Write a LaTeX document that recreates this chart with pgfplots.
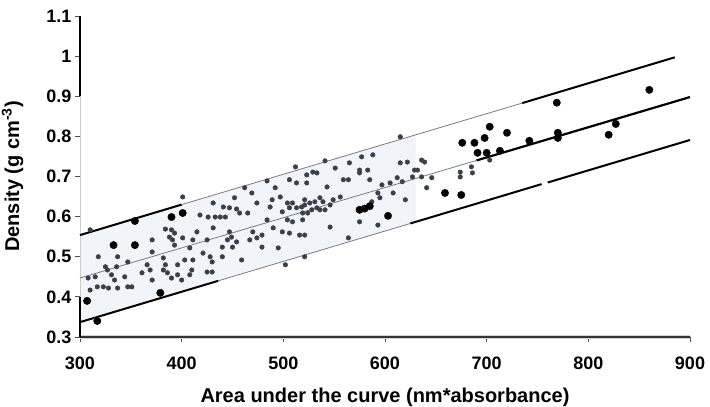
\documentclass[border=0pt]{standalone}
\usepackage{fontspec}
\setmainfont{Liberation Sans}
\usepackage{pgfplots}
\pgfplotsset{compat=1.18}
\definecolor{dotgray}{RGB}{58,63,76}
\definecolor{bandfill}{RGB}{241,245,249}
\definecolor{thinline}{RGB}{120,124,130}

\begin{document}
\begin{tikzpicture}
\begin{axis}[
    name=ax,
    scale only axis,
    width=610pt, height=321pt,
    xmin=300, xmax=900, ymin=0.3, ymax=1.1,
    clip=false,
    axis x line*=bottom, axis y line*=left,
    axis line style={draw=none},
    xtick={300,400,500,600,700,800,900},
    xticklabels={300,400,500,600,700,800,900},
    ytick={0.3,0.4,0.5,0.6,0.7,0.8,0.9,1,1.1},
    yticklabels={0.3,0.4,0.5,0.6,0.7,0.8,0.9,1,1.1},
    tick align=outside,
    major tick length=5pt,
    tick style={black!70, line width=0.8pt},
    ticklabel style={font=\fontsize{18}{18}\selectfont\bfseries},
    xticklabel style={yshift=-11pt},
    label style={font=\fontsize{20}{20}\selectfont\bfseries},
    xlabel={Area under the curve (nm*absorbance)},
    ylabel={Density (g cm\textsuperscript{-3})},
    xlabel style={at={(axis description cs:0.5,0)}, anchor=base, yshift=-65pt},
    ylabel style={at={(axis description cs:0,0.5)}, anchor=south, yshift=53pt},
]
% shaded prediction band
\addplot[fill=bandfill, draw=none] coordinates {(300,0.554)(630,0.804)(630,0.587)(300,0.337)} -- cycle;

% axis lines
\addplot[gray!35, line width=4pt] coordinates {(300,0.3)(900,0.3)};
\addplot[black!80, line width=1.4pt] coordinates {(300,0.3)(900,0.3)};
\addplot[black, line width=1.2pt] coordinates {(300,0.9)(300,1.1)};
\addplot[gray!40, line width=0.8pt] coordinates {(300,0.4)(300,0.9)};
\addplot[black, line width=1.4pt] coordinates {(300,0.3)(300,0.4)};

% upper limit
\addplot[black, line width=2pt] coordinates {(300,0.554)(400,0.630)};
\addplot[thinline, line width=0.8pt] coordinates {(400,0.630)(735,0.883)};
\addplot[black, line width=2pt] coordinates {(735,0.883)(885,0.997)};
% regression line
\addplot[thinline, line width=0.8pt] coordinates {(300,0.447)(690,0.740)};
\addplot[black, line width=2.2pt] coordinates {(690,0.740)(900,0.898)};
% lower limit
\addplot[black, line width=2pt] coordinates {(300,0.337)(436,0.440)};
\addplot[thinline, line width=0.8pt] coordinates {(436,0.440)(625,0.583)};
\addplot[black, line width=2pt] coordinates {(625,0.583)(754,0.681)};
\addplot[black, line width=2pt] coordinates {(760,0.685)(900,0.791)};

% calibration samples
\addplot[only marks, mark=*, mark size=2.3pt, mark options={draw=dotgray, fill=dotgray}] table {
x y
401 0.649
310 0.567
384 0.569
390 0.567
393 0.559
388 0.549
391 0.542
393 0.529
371 0.542
401 0.547
371 0.512
408 0.522
318 0.500
337 0.500
347 0.487
366 0.480
382 0.497
384 0.480
382 0.467
386 0.460
396 0.480
403 0.492
325 0.475
327 0.467
331 0.455
336 0.475
334 0.442
344 0.450
351 0.425
369 0.467
371 0.442
361 0.460
396 0.455
400 0.442
308 0.447
315 0.450
323 0.425
328 0.422
310 0.417
317 0.425
337 0.422
347 0.425
408 0.455
390 0.447
512 0.724
523 0.704
484 0.689
506 0.692
513 0.684
492 0.672
462 0.672
469 0.659
497 0.649
452 0.647
474 0.634
489 0.642
487 0.624
504 0.634
509 0.634
513 0.622
506 0.622
521 0.629
524 0.609
499 0.612
441 0.624
447 0.622
454 0.619
457 0.609
431 0.634
426 0.599
433 0.599
438 0.599
443 0.599
418 0.604
465 0.609
484 0.592
504 0.592
509 0.587
519 0.592
490 0.572
431 0.572
415 0.562
447 0.562
449 0.549
445 0.542
470 0.562
479 0.554
474 0.547
499 0.562
506 0.559
516 0.554
425 0.542
454 0.537
450 0.524
467 0.542
479 0.524
495 0.522
411 0.542
440 0.524
421 0.509
428 0.500
430 0.487
440 0.500
459 0.492
411 0.492
502 0.480
521 0.500
425 0.462
430 0.462
410 0.467
615 0.799
588 0.754
577 0.749
565 0.734
541 0.739
551 0.721
529 0.711
533 0.709
575 0.716
575 0.709
583 0.716
615 0.734
622 0.736
629 0.716
612 0.697
617 0.687
627 0.699
605 0.684
559 0.692
564 0.692
585 0.692
597 0.679
543 0.674
523 0.684
593 0.659
595 0.647
556 0.649
608 0.659
620 0.642
521 0.642
526 0.634
531 0.637
536 0.647
539 0.637
533 0.622
528 0.617
536 0.617
541 0.617
546 0.629
549 0.642
518 0.624
519 0.609
546 0.574
521 0.554
575 0.587
593 0.579
564 0.547
587 0.637
636 0.741
639 0.736
632 0.716
636 0.699
646 0.697
674 0.711
674 0.699
685 0.724
686 0.709
703 0.741
641 0.672
};

% validation samples
\addplot[only marks, mark=*, mark size=3.7pt, mark options={draw=black, fill=black}] table {
x y
354 0.589
333 0.529
354 0.529
390 0.599
401 0.609
307 0.390
317 0.340
379 0.410
575 0.617
580 0.620
585 0.626
603 0.602
676 0.784
688 0.784
698 0.796
703 0.824
720 0.809
691 0.759
700 0.759
713 0.764
742 0.789
769 0.884
770 0.809
770 0.796
659 0.659
675 0.654
860 0.916
827 0.831
820 0.804
};
\end{axis}
\pgfresetboundingbox
\path (ax.south west) ++(-80pt,-70pt) rectangle ++(710pt,407pt);
\end{tikzpicture}
\end{document}
